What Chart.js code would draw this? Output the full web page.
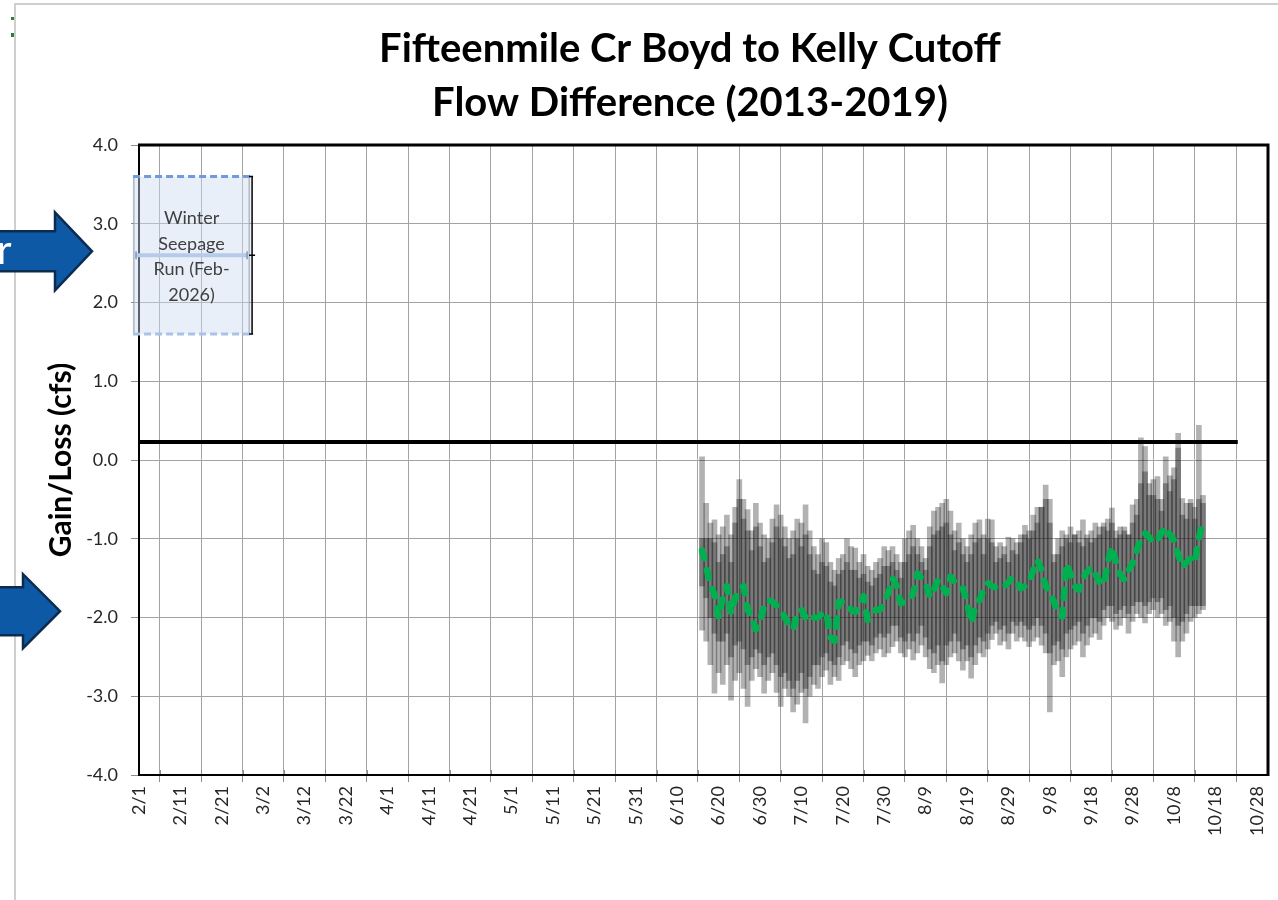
<!DOCTYPE html>
<html>
<head>
<meta charset="utf-8">
<title>Fifteenmile Cr Boyd to Kelly Cutoff</title>
<script src="https://cdn.jsdelivr.net/npm/chart.js@4.4.1/dist/chart.umd.min.js"></script>
<style>
  html, body { margin: 0; padding: 0; background: #fff; }
  #wrap { position: relative; width: 1278px; height: 900px; overflow: hidden; }
  #sheet-edge { position: absolute; left: 14px; top: 3px; right: 0; bottom: 0;
    border-left: 2px solid #cfcfcf; border-top: 2px solid #cfcfcf; }
  .cell-mark { position: absolute; left: 11px; width: 3px; background: #2e7d45; }
  canvas { position: absolute; left: 0; top: 0; }
</style>
</head>
<body>
<div id="wrap">
  <div id="sheet-edge"></div>
  <div class="cell-mark" style="top:17px;height:3px"></div>
  <div class="cell-mark" style="top:33px;height:4px"></div>
  <canvas id="flow-chart" width="1278" height="900"></canvas>
</div>
<script>
// Flow difference chart, Fifteenmile Cr Boyd to Kelly Cutoff

const FONT = 'Lato, "Open Sans", sans-serif';

const titleLines = ['Fifteenmile Cr Boyd to Kelly Cutoff', 'Flow Difference (2013-2019)'];

// date axis labels, one every 10 days starting 2/1
const xTickLabels = ['2/1', '2/11', '2/21', '3/2', '3/12', '3/22', '4/1', '4/11', '4/21', '5/1',
  '5/11', '5/21', '5/31', '6/10', '6/20', '6/30', '7/10', '7/20', '7/30', '8/9',
  '8/19', '8/29', '9/8', '9/18', '9/28', '10/8', '10/18', '10/28'];

// daily statistics start on 6/16 (day 136 counted from 2/1)
const firstDay = 136;

const maxFlow = [
  0.04, -0.55, -0.80, -0.76, -0.95, -0.85, -0.70, -0.95, -0.60, -0.25,
  -0.50, -0.63, -0.90, -0.55, -0.80, -0.95, -1.00, -0.75, -0.57, -0.70,
  -0.85, -1.00, -0.90, -0.75, -0.80, -0.57, -0.90, -1.10, -1.20, -1.00,
  -1.05, -1.30, -1.40, -1.25, -1.20, -1.00, -1.10, -1.12, -1.30, -1.20,
  -1.35, -1.40, -1.30, -1.25, -1.10, -1.15, -1.10, -1.20, -1.30, -1.00,
  -0.90, -0.83, -1.00, -1.10, -1.25, -0.85, -0.65, -0.60, -0.55, -0.50,
  -0.65, -0.90, -0.80, -1.00, -1.10, -0.95, -0.80, -0.76, -0.95, -0.75,
  -0.76, -1.10, -1.05, -1.10, -0.98, -1.00, -1.05, -0.95, -0.83, -0.90,
  -0.70, -0.60, -0.60, -0.32, -0.50, -1.20, -1.00, -0.90, -0.95, -0.85,
  -0.95, -0.90, -0.76, -0.95, -0.90, -0.80, -0.85, -0.80, -0.75, -0.61,
  -0.90, -0.85, -0.85, -0.95, -0.57, -0.50, 0.28, 0.17, -0.30, -0.25,
  -0.21, -0.50, 0.04, -0.20, -0.10, 0.34, -0.49, -0.55, -0.50, -0.60,
  0.44, -0.45
];

const q3Flow = [
  -1.00, -1.00, -1.00, -1.05, -1.30, -1.20, -1.10, -1.30, -0.80, -0.50,
  -0.75, -0.90, -1.15, -0.85, -1.10, -1.30, -1.25, -1.05, -0.85, -1.00,
  -1.10, -1.25, -1.20, -1.00, -1.10, -0.95, -1.20, -1.40, -1.45, -1.30,
  -1.35, -1.55, -1.60, -1.45, -1.40, -1.30, -1.40, -1.40, -1.50, -1.45,
  -1.55, -1.60, -1.50, -1.45, -1.35, -1.35, -1.30, -1.40, -1.50, -1.30,
  -1.20, -1.10, -1.20, -1.30, -1.40, -1.10, -0.95, -0.90, -0.85, -0.80,
  -0.95, -1.15, -1.05, -1.20, -1.30, -1.20, -1.05, -1.00, -1.20, -1.00,
  -1.05, -1.30, -1.25, -1.20, -1.30, -1.15, -1.20, -1.05, -0.95, -1.00,
  -0.90, -0.80, -0.60, -0.50, -0.80, -1.30, -1.20, -1.10, -1.00, -1.05,
  -0.95, -1.05, -1.10, -1.00, -1.05, -1.00, -0.95, -0.85, -0.90, -0.80,
  -1.00, -0.95, -0.90, -0.95, -0.80, -0.70, -0.30, -0.15, -0.45, -0.45,
  -0.50, -0.65, -0.30, -0.40, -0.25, 0.15, -0.70, -0.75, -0.55, -0.75,
  -0.50, -0.55
];

const medianFlow = [
  -1.15, -1.35, -1.60, -1.70, -2.00, -1.75, -1.60, -1.95, -1.75, -1.65,
  -1.60, -1.90, -2.00, -2.15, -2.05, -1.85, -1.78, -1.80, -1.85, -1.90,
  -2.00, -2.10, -2.15, -1.95, -1.90, -2.00, -2.05, -2.00, -2.00, -1.95,
  -1.93, -2.25, -2.30, -1.80, -1.80, -1.82, -1.90, -1.93, -1.85, -1.73,
  -2.03, -1.95, -1.90, -1.90, -1.80, -1.69, -1.50, -1.60, -1.82, -1.80,
  -1.78, -1.70, -1.44, -1.50, -1.56, -1.74, -1.65, -1.52, -1.60, -1.69,
  -1.48, -1.55, -1.61, -1.63, -1.80, -2.07, -1.87, -1.78, -1.65, -1.56,
  -1.60, -1.62, -1.60, -1.61, -1.55, -1.49, -1.55, -1.63, -1.60, -1.55,
  -1.40, -1.27, -1.40, -1.60, -1.69, -1.80, -1.95, -1.99, -1.31, -1.45,
  -1.60, -1.65, -1.50, -1.42, -1.36, -1.45, -1.55, -1.59, -1.30, -1.10,
  -1.30, -1.45, -1.52, -1.40, -1.31, -1.15, -1.00, -0.93, -0.98, -1.05,
  -1.02, -0.92, -0.85, -0.95, -1.02, -1.20, -1.36, -1.30, -1.25, -1.30,
  -1.00, -0.74
];

const q1Flow = [
  -1.60, -1.75, -2.00, -2.20, -2.30, -2.30, -2.20, -2.50, -2.35, -2.30,
  -2.40, -2.60, -2.50, -2.40, -2.45, -2.60, -2.50, -2.45, -2.60, -2.75,
  -2.70, -2.80, -2.90, -2.80, -2.70, -2.90, -2.75, -2.60, -2.60, -2.50,
  -2.45, -2.55, -2.60, -2.50, -2.35, -2.30, -2.40, -2.45, -2.35, -2.30,
  -2.30, -2.35, -2.25, -2.20, -2.25, -2.20, -2.10, -2.10, -2.25, -2.30,
  -2.20, -2.30, -2.20, -2.10, -2.25, -2.40, -2.45, -2.35, -2.55, -2.35,
  -2.30, -2.20, -2.30, -2.40, -2.35, -2.50, -2.35, -2.25, -2.30, -2.20,
  -2.10, -2.05, -2.15, -2.10, -2.20, -2.05, -2.10, -2.05, -2.10, -2.15,
  -2.10, -2.00, -2.10, -2.20, -2.45, -2.35, -2.30, -2.40, -2.20, -2.15,
  -2.10, -2.05, -2.20, -2.10, -2.00, -2.00, -2.05, -1.90, -1.85, -1.85,
  -1.95, -1.90, -1.85, -1.95, -1.85, -1.80, -1.80, -1.85, -1.80, -1.75,
  -1.80, -1.75, -1.90, -1.85, -2.00, -2.10, -2.05, -1.95, -1.85, -1.85,
  -1.85, -1.85
];

const minFlow = [
  -2.16, -2.30, -2.60, -2.96, -2.70, -2.85, -2.60, -3.05, -2.80, -2.70,
  -2.90, -3.13, -2.80, -2.65, -2.75, -2.96, -2.80, -2.70, -2.95, -3.13,
  -2.90, -3.00, -3.20, -3.10, -2.95, -3.34, -3.00, -2.85, -2.90, -2.75,
  -2.67, -2.85, -2.75, -2.80, -2.60, -2.55, -2.65, -2.75, -2.60, -2.55,
  -2.48, -2.55, -2.45, -2.40, -2.50, -2.45, -2.37, -2.30, -2.45, -2.50,
  -2.40, -2.54, -2.45, -2.35, -2.50, -2.65, -2.70, -2.60, -2.83, -2.60,
  -2.50, -2.45, -2.55, -2.67, -2.55, -2.77, -2.60, -2.45, -2.50, -2.40,
  -2.28, -2.20, -2.35, -2.30, -2.40, -2.20, -2.30, -2.25, -2.30, -2.37,
  -2.30, -2.25, -2.35, -2.45, -3.20, -2.60, -2.55, -2.75, -2.50, -2.40,
  -2.35, -2.30, -2.50, -2.35, -2.25, -2.20, -2.28, -2.10, -2.00, -2.05,
  -2.15, -2.10, -2.00, -2.20, -2.05, -1.95, -2.00, -2.07, -1.95, -1.90,
  -2.00, -1.95, -2.10, -2.05, -2.30, -2.50, -2.30, -2.20, -2.05, -2.00,
  -1.95, -1.90
];

// reference line across the season
const thresholdDays = [0, 265.4];
const thresholdFlow = [0.23, 0.23];

// winter seepage run placeholder: low, middle, high
const winterRunDay = 12.7;
const winterRunRange = [1.6, 2.6, 3.6];
const winterRunLabel = ['Winter', 'Seepage', 'Run (Feb-', '2026)'];

// callout arrows on the left side point at these levels
const arrowLevels = [2.65, -1.92];

const days = medianFlow.map((_, i) => firstDay + i);

function rangeData(lo, hi) {
  return days.map((d, i) => ({ x: d, y: [lo[i], hi[i]] }));
}

const WINTER = 4;

// extra drawing: frame, minor ticks, title, winter box details, arrows
const chartDecor = {
  id: 'chartDecor',
  afterDatasetsDraw(chart) {
    const { ctx } = chart;
    const y = chart.scales.y;
    const bar = chart.getDatasetMeta(WINTER).data[0];
    if (!bar) return;
    const left = bar.x - bar.width / 2;
    const right = bar.x + bar.width / 2;
    const top = y.getPixelForValue(winterRunRange[2]);
    const mid = y.getPixelForValue(winterRunRange[1]);
    const bottom = y.getPixelForValue(winterRunRange[0]);

    ctx.save();
    ctx.lineWidth = 3;
    ctx.setLineDash([7, 4]);
    ctx.strokeStyle = '#6f9bd9';
    ctx.beginPath();
    ctx.moveTo(left, top); ctx.lineTo(right, top);
    ctx.stroke();
    ctx.strokeStyle = '#a9c3e8';
    ctx.beginPath();
    ctx.moveTo(left, bottom); ctx.lineTo(right, bottom);
    ctx.stroke();
    ctx.setLineDash([]);

    // middle line with small end caps
    ctx.strokeStyle = '#b5cbe9';
    ctx.lineWidth = 4;
    ctx.beginPath();
    ctx.moveTo(left + 2, mid); ctx.lineTo(right - 2, mid);
    ctx.stroke();
    ctx.lineWidth = 1.5;
    ctx.strokeStyle = '#7f9cc4';
    ctx.beginPath();
    ctx.moveTo(left + 3, mid - 4); ctx.lineTo(left + 3, mid + 4);
    ctx.moveTo(right - 3, mid - 4); ctx.lineTo(right - 3, mid + 4);
    ctx.stroke();

    // black range line on the right edge
    const ex = right + 2;
    ctx.strokeStyle = '#000';
    ctx.lineWidth = 1.5;
    ctx.beginPath();
    ctx.moveTo(ex, top); ctx.lineTo(ex, bottom);
    ctx.moveTo(ex - 3, top); ctx.lineTo(ex + 1, top);
    ctx.moveTo(ex - 3, bottom); ctx.lineTo(ex + 1, bottom);
    ctx.moveTo(ex - 3, mid); ctx.lineTo(ex + 3, mid);
    ctx.stroke();

    ctx.fillStyle = '#404040';
    ctx.font = '18px ' + FONT;
    ctx.textAlign = 'center';
    ctx.textBaseline = 'middle';
    const step = 25.7;
    const start = mid + 1.5 - step * (winterRunLabel.length - 1) / 2;
    winterRunLabel.forEach((t, i) => ctx.fillText(t, bar.x, start + i * step));
    ctx.restore();
  },
  afterDraw(chart) {
    const { ctx, chartArea: a } = chart;
    const x = chart.scales.x;
    const y = chart.scales.y;
    ctx.save();

    // minor tick marks every 5 days
    ctx.strokeStyle = '#8c8c8c';
    ctx.lineWidth = 1;
    ctx.beginPath();
    for (let v = 5; v < x.max; v += 10) {
      const px = Math.round(x.getPixelForValue(v)) + 0.5;
      ctx.moveTo(px, a.bottom - 1); ctx.lineTo(px, a.bottom - 5);
    }
    ctx.stroke();

    // top and right frame
    ctx.strokeStyle = '#000';
    ctx.lineWidth = 3;
    ctx.beginPath();
    ctx.moveTo(a.left - 1, a.top);
    ctx.lineTo(a.right, a.top);
    ctx.lineTo(a.right, a.bottom + 1);
    ctx.stroke();

    // title
    ctx.fillStyle = '#000';
    ctx.font = 'bold 40px ' + FONT;
    ctx.textAlign = 'center';
    ctx.textBaseline = 'alphabetic';
    ctx.fillText(titleLines[0], 690, 62);
    ctx.fillText(titleLines[1], 690, 116);

    // callout arrows (cut by the left edge)
    const shapes = [
      { tip: 92, base: 55, shaft: 20, head: 39 },
      { tip: 60, base: 23, shaft: 24, head: 37 }
    ];
    arrowLevels.forEach((lvl, k) => {
      const cy = y.getPixelForValue(lvl);
      const s = shapes[k];
      ctx.beginPath();
      ctx.moveTo(-6, cy - s.shaft);
      ctx.lineTo(s.base, cy - s.shaft);
      ctx.lineTo(s.base, cy - s.head);
      ctx.lineTo(s.tip, cy);
      ctx.lineTo(s.base, cy + s.head);
      ctx.lineTo(s.base, cy + s.shaft);
      ctx.lineTo(-6, cy + s.shaft);
      ctx.closePath();
      ctx.fillStyle = '#0d59a5';
      ctx.fill();
      ctx.lineWidth = 2.5;
      ctx.strokeStyle = '#0c2b50';
      ctx.stroke();
    });
    const cy0 = y.getPixelForValue(arrowLevels[0]);
    ctx.fillStyle = '#fff';
    ctx.font = '40px ' + FONT;
    ctx.textAlign = 'left';
    ctx.fillText('r', -3, cy0 + 13);
    ctx.restore();
  }
};

const ctx = document.getElementById('flow-chart').getContext('2d');

const flowChart = new Chart(ctx, {
  type: 'bar',
  data: {
    datasets: [
      {
        type: 'line',
        label: 'Reference',
        data: thresholdDays.map((d, i) => ({ x: d, y: thresholdFlow[i] })),
        borderColor: '#000',
        borderWidth: 4,
        pointRadius: 0,
        order: 0
      },
      {
        type: 'line',
        label: 'Median',
        data: days.map((d, i) => ({ x: d, y: medianFlow[i] })),
        borderColor: '#00b050',
        borderWidth: 6.5,
        borderDash: [8, 12],
        borderCapStyle: 'round',
        borderJoinStyle: 'round',
        tension: 0,
        pointRadius: 0,
        order: 1
      },
      {
        label: 'Quartiles',
        data: rangeData(q1Flow, q3Flow),
        backgroundColor: 'rgba(40, 40, 40, 0.42)',
        barThickness: 5,
        grouped: false,
        order: 2
      },
      {
        label: 'Range',
        data: rangeData(minFlow, maxFlow),
        backgroundColor: 'rgba(0, 0, 0, 0.3)',
        barThickness: 5,
        grouped: false,
        order: 3
      },
      {
        label: 'Winter Seepage Run (Feb-2026)',
        data: [{ x: winterRunDay, y: [winterRunRange[0], winterRunRange[2]] }],
        backgroundColor: 'rgba(205, 219, 240, 0.45)',
        borderColor: 'rgba(150, 160, 178, 0.7)',
        borderWidth: { left: 1.5, right: 1.5, top: 0, bottom: 0 },
        borderSkipped: false,
        barThickness: 117,
        grouped: false,
        clip: false,
        order: 4
      }
    ]
  },
  options: {
    responsive: false,
    animation: false,
    events: [],
    layout: { padding: { left: 40, right: 10, top: 145, bottom: 0 } },
    plugins: {
      legend: { display: false },
      tooltip: { enabled: false },
      title: { display: false }
    },
    scales: {
      x: {
        type: 'linear',
        min: 0,
        max: 272.7,
        offset: false,
        grid: { color: '#a3a3a3', lineWidth: 1, tickLength: 7, tickColor: '#8c8c8c' },
        border: { color: '#000', width: 2 },
        ticks: {
          stepSize: 10,
          includeBounds: false,
          autoSkip: false,
          minRotation: 90,
          maxRotation: 90,
          padding: 4,
          color: '#262626',
          font: { family: FONT, size: 18 },
          callback: (v) => xTickLabels[Math.round(v / 10)] ?? ''
        },
        afterFit: (s) => {
          s.height = 125;
          s.paddingLeft = 0;
          s.paddingRight = 0;
        }
      },
      y: {
        min: -4,
        max: 4,
        grid: { color: '#a3a3a3', lineWidth: 1, tickLength: 8, tickColor: '#8c8c8c' },
        border: { color: '#000', width: 2 },
        ticks: {
          stepSize: 1,
          padding: 13,
          color: '#262626',
          font: { family: FONT, size: 18 },
          callback: (v) => v.toFixed(1)
        },
        title: {
          display: true,
          text: 'Gain/Loss (cfs)',
          color: '#000',
          font: { family: FONT, size: 30, weight: 'bold' },
          padding: { top: 3, bottom: 0 }
        },
        afterFit: (s) => { s.width = 99; }
      }
    }
  },
  plugins: [chartDecor]
});
</script>
</body>
</html>
